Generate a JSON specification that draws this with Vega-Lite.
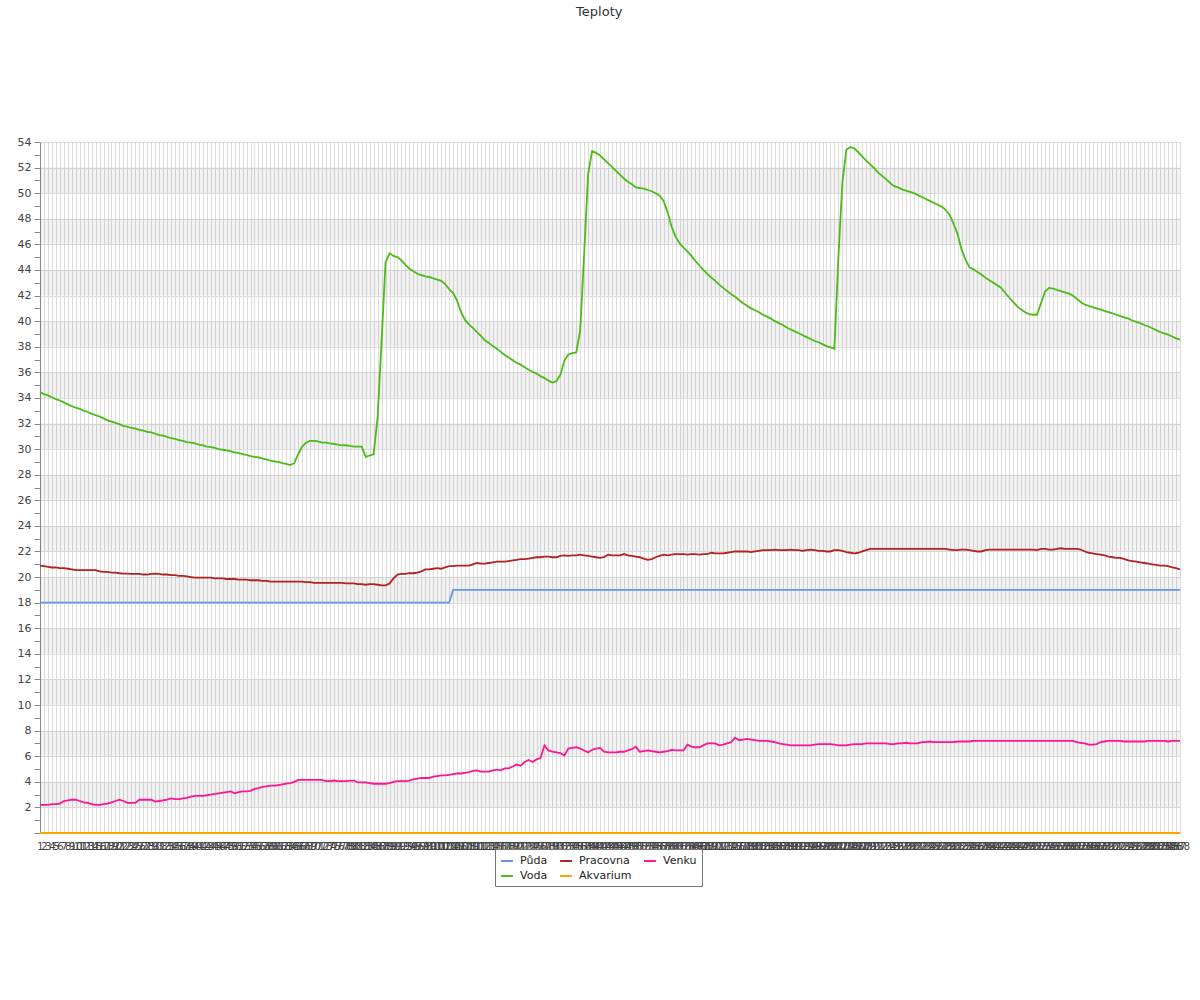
{
"$schema":"https://vega.github.io/schema/vega-lite/v6.json",
"width":1140,"height":691,
"autosize":"none",
"padding":{"left":40,"top":142,"right":20,"bottom":167},
"background":"white",
"config":{"font":"DejaVu Sans","view":{"stroke":null}},
"title":{"text":"Teploty","anchor":"middle","frame":"bounds","offset":117,"fontSize":13,"fontWeight":"normal","color":"#333","dx":-4},
"datasets":{
"bands":[{"t":2,"t2":4},{"t":6,"t2":8},{"t":10,"t2":12},{"t":14,"t2":16},{"t":18,"t2":20},{"t":22,"t2":24},{"t":26,"t2":28},{"t":30,"t2":32},{"t":34,"t2":36},{"t":38,"t2":40},{"t":42,"t2":44},{"t":46,"t2":48},{"t":50,"t2":52}],
"temps":[
{"i":1,"Půda":18,"Voda":34.45,"Pracovna":20.9,"Akvarium":0,"Venku":2.2},
{"i":2,"Půda":18,"Voda":34.3,"Pracovna":20.85,"Akvarium":0,"Venku":2.2},
{"i":3,"Půda":18,"Voda":34.2,"Pracovna":20.8,"Akvarium":0,"Venku":2.2},
{"i":4,"Půda":18,"Voda":34.05,"Pracovna":20.75,"Akvarium":0,"Venku":2.25},
{"i":5,"Půda":18,"Voda":33.9,"Pracovna":20.75,"Akvarium":0,"Venku":2.25},
{"i":6,"Půda":18,"Voda":33.8,"Pracovna":20.7,"Akvarium":0,"Venku":2.3},
{"i":7,"Půda":18,"Voda":33.65,"Pracovna":20.7,"Akvarium":0,"Venku":2.5},
{"i":8,"Půda":18,"Voda":33.5,"Pracovna":20.65,"Akvarium":0,"Venku":2.55},
{"i":9,"Půda":18,"Voda":33.35,"Pracovna":20.6,"Akvarium":0,"Venku":2.6},
{"i":10,"Půda":18,"Voda":33.25,"Pracovna":20.55,"Akvarium":0,"Venku":2.6},
{"i":11,"Půda":18,"Voda":33.15,"Pracovna":20.55,"Akvarium":0,"Venku":2.5},
{"i":12,"Půda":18,"Voda":33.0,"Pracovna":20.55,"Akvarium":0,"Venku":2.4},
{"i":13,"Půda":18,"Voda":32.9,"Pracovna":20.55,"Akvarium":0,"Venku":2.35},
{"i":14,"Půda":18,"Voda":32.75,"Pracovna":20.55,"Akvarium":0,"Venku":2.25},
{"i":15,"Půda":18,"Voda":32.65,"Pracovna":20.55,"Akvarium":0,"Venku":2.2},
{"i":16,"Půda":18,"Voda":32.55,"Pracovna":20.45,"Akvarium":0,"Venku":2.2},
{"i":17,"Půda":18,"Voda":32.4,"Pracovna":20.4,"Akvarium":0,"Venku":2.25},
{"i":18,"Půda":18,"Voda":32.25,"Pracovna":20.4,"Akvarium":0,"Venku":2.3},
{"i":19,"Půda":18,"Voda":32.15,"Pracovna":20.35,"Akvarium":0,"Venku":2.4},
{"i":20,"Půda":18,"Voda":32.05,"Pracovna":20.35,"Akvarium":0,"Venku":2.5},
{"i":21,"Půda":18,"Voda":31.95,"Pracovna":20.3,"Akvarium":0,"Venku":2.6},
{"i":22,"Půda":18,"Voda":31.8,"Pracovna":20.27,"Akvarium":0,"Venku":2.5},
{"i":23,"Půda":18,"Voda":31.75,"Pracovna":20.27,"Akvarium":0,"Venku":2.35},
{"i":24,"Půda":18,"Voda":31.65,"Pracovna":20.25,"Akvarium":0,"Venku":2.35},
{"i":25,"Půda":18,"Voda":31.6,"Pracovna":20.25,"Akvarium":0,"Venku":2.35},
{"i":26,"Půda":18,"Voda":31.5,"Pracovna":20.25,"Akvarium":0,"Venku":2.6},
{"i":27,"Půda":18,"Voda":31.45,"Pracovna":20.2,"Akvarium":0,"Venku":2.6},
{"i":28,"Půda":18,"Voda":31.35,"Pracovna":20.2,"Akvarium":0,"Venku":2.6},
{"i":29,"Půda":18,"Voda":31.3,"Pracovna":20.25,"Akvarium":0,"Venku":2.6},
{"i":30,"Půda":18,"Voda":31.2,"Pracovna":20.27,"Akvarium":0,"Venku":2.45},
{"i":31,"Půda":18,"Voda":31.1,"Pracovna":20.25,"Akvarium":0,"Venku":2.5},
{"i":32,"Půda":18,"Voda":31.05,"Pracovna":20.2,"Akvarium":0,"Venku":2.55},
{"i":33,"Půda":18,"Voda":30.95,"Pracovna":20.2,"Akvarium":0,"Venku":2.6},
{"i":34,"Půda":18,"Voda":30.85,"Pracovna":20.15,"Akvarium":0,"Venku":2.7},
{"i":35,"Půda":18,"Voda":30.8,"Pracovna":20.15,"Akvarium":0,"Venku":2.65},
{"i":36,"Půda":18,"Voda":30.7,"Pracovna":20.1,"Akvarium":0,"Venku":2.65},
{"i":37,"Půda":18,"Voda":30.65,"Pracovna":20.1,"Akvarium":0,"Venku":2.7},
{"i":38,"Půda":18,"Voda":30.55,"Pracovna":20.05,"Akvarium":0,"Venku":2.75},
{"i":39,"Půda":18,"Voda":30.5,"Pracovna":20.0,"Akvarium":0,"Venku":2.85},
{"i":40,"Půda":18,"Voda":30.45,"Pracovna":19.95,"Akvarium":0,"Venku":2.9},
{"i":41,"Půda":18,"Voda":30.35,"Pracovna":19.95,"Akvarium":0,"Venku":2.9},
{"i":42,"Půda":18,"Voda":30.3,"Pracovna":19.95,"Akvarium":0,"Venku":2.9},
{"i":43,"Půda":18,"Voda":30.2,"Pracovna":19.95,"Akvarium":0,"Venku":2.95},
{"i":44,"Půda":18,"Voda":30.15,"Pracovna":19.95,"Akvarium":0,"Venku":3.0},
{"i":45,"Půda":18,"Voda":30.1,"Pracovna":19.9,"Akvarium":0,"Venku":3.05},
{"i":46,"Půda":18,"Voda":30.0,"Pracovna":19.9,"Akvarium":0,"Venku":3.1},
{"i":47,"Půda":18,"Voda":29.95,"Pracovna":19.9,"Akvarium":0,"Venku":3.15},
{"i":48,"Půda":18,"Voda":29.9,"Pracovna":19.85,"Akvarium":0,"Venku":3.2},
{"i":49,"Půda":18,"Voda":29.85,"Pracovna":19.85,"Akvarium":0,"Venku":3.25},
{"i":50,"Půda":18,"Voda":29.75,"Pracovna":19.85,"Akvarium":0,"Venku":3.1},
{"i":51,"Půda":18,"Voda":29.7,"Pracovna":19.8,"Akvarium":0,"Venku":3.2},
{"i":52,"Půda":18,"Voda":29.6,"Pracovna":19.8,"Akvarium":0,"Venku":3.25},
{"i":53,"Půda":18,"Voda":29.55,"Pracovna":19.8,"Akvarium":0,"Venku":3.25},
{"i":54,"Půda":18,"Voda":29.45,"Pracovna":19.75,"Akvarium":0,"Venku":3.3},
{"i":55,"Půda":18,"Voda":29.4,"Pracovna":19.75,"Akvarium":0,"Venku":3.45},
{"i":56,"Půda":18,"Voda":29.35,"Pracovna":19.75,"Akvarium":0,"Venku":3.5},
{"i":57,"Půda":18,"Voda":29.25,"Pracovna":19.7,"Akvarium":0,"Venku":3.6},
{"i":58,"Půda":18,"Voda":29.2,"Pracovna":19.7,"Akvarium":0,"Venku":3.65},
{"i":59,"Půda":18,"Voda":29.1,"Pracovna":19.65,"Akvarium":0,"Venku":3.7},
{"i":60,"Půda":18,"Voda":29.05,"Pracovna":19.65,"Akvarium":0,"Venku":3.7},
{"i":61,"Půda":18,"Voda":29.0,"Pracovna":19.65,"Akvarium":0,"Venku":3.75},
{"i":62,"Půda":18,"Voda":28.9,"Pracovna":19.65,"Akvarium":0,"Venku":3.8},
{"i":63,"Půda":18,"Voda":28.85,"Pracovna":19.65,"Akvarium":0,"Venku":3.85},
{"i":64,"Půda":18,"Voda":28.75,"Pracovna":19.65,"Akvarium":0,"Venku":3.9},
{"i":65,"Půda":18,"Voda":28.9,"Pracovna":19.65,"Akvarium":0,"Venku":4.0},
{"i":66,"Půda":18,"Voda":29.6,"Pracovna":19.65,"Akvarium":0,"Venku":4.15},
{"i":67,"Půda":18,"Voda":30.2,"Pracovna":19.65,"Akvarium":0,"Venku":4.15},
{"i":68,"Půda":18,"Voda":30.5,"Pracovna":19.6,"Akvarium":0,"Venku":4.15},
{"i":69,"Půda":18,"Voda":30.65,"Pracovna":19.6,"Akvarium":0,"Venku":4.15},
{"i":70,"Půda":18,"Voda":30.65,"Pracovna":19.55,"Akvarium":0,"Venku":4.15},
{"i":71,"Půda":18,"Voda":30.6,"Pracovna":19.55,"Akvarium":0,"Venku":4.15},
{"i":72,"Půda":18,"Voda":30.5,"Pracovna":19.55,"Akvarium":0,"Venku":4.15},
{"i":73,"Půda":18,"Voda":30.5,"Pracovna":19.55,"Akvarium":0,"Venku":4.05},
{"i":74,"Půda":18,"Voda":30.45,"Pracovna":19.55,"Akvarium":0,"Venku":4.05},
{"i":75,"Půda":18,"Voda":30.4,"Pracovna":19.55,"Akvarium":0,"Venku":4.1},
{"i":76,"Půda":18,"Voda":30.35,"Pracovna":19.55,"Akvarium":0,"Venku":4.05},
{"i":77,"Půda":18,"Voda":30.3,"Pracovna":19.55,"Akvarium":0,"Venku":4.05},
{"i":78,"Půda":18,"Voda":30.3,"Pracovna":19.5,"Akvarium":0,"Venku":4.05},
{"i":79,"Půda":18,"Voda":30.25,"Pracovna":19.5,"Akvarium":0,"Venku":4.1},
{"i":80,"Půda":18,"Voda":30.2,"Pracovna":19.5,"Akvarium":0,"Venku":4.1},
{"i":81,"Půda":18,"Voda":30.2,"Pracovna":19.45,"Akvarium":0,"Venku":3.95},
{"i":82,"Půda":18,"Voda":30.2,"Pracovna":19.45,"Akvarium":0,"Venku":3.95},
{"i":83,"Půda":18,"Voda":29.4,"Pracovna":19.4,"Akvarium":0,"Venku":3.95},
{"i":84,"Půda":18,"Voda":29.5,"Pracovna":19.45,"Akvarium":0,"Venku":3.9},
{"i":85,"Půda":18,"Voda":29.6,"Pracovna":19.45,"Akvarium":0,"Venku":3.85},
{"i":86,"Půda":18,"Voda":32.5,"Pracovna":19.4,"Akvarium":0,"Venku":3.85},
{"i":87,"Půda":18,"Voda":38.5,"Pracovna":19.35,"Akvarium":0,"Venku":3.85},
{"i":88,"Půda":18,"Voda":44.6,"Pracovna":19.35,"Akvarium":0,"Venku":3.85},
{"i":89,"Půda":18,"Voda":45.3,"Pracovna":19.5,"Akvarium":0,"Venku":3.9},
{"i":90,"Půda":18,"Voda":45.1,"Pracovna":19.9,"Akvarium":0,"Venku":4.0},
{"i":91,"Půda":18,"Voda":45.0,"Pracovna":20.2,"Akvarium":0,"Venku":4.05},
{"i":92,"Půda":18,"Voda":44.75,"Pracovna":20.25,"Akvarium":0,"Venku":4.05},
{"i":93,"Půda":18,"Voda":44.4,"Pracovna":20.25,"Akvarium":0,"Venku":4.05},
{"i":94,"Půda":18,"Voda":44.1,"Pracovna":20.3,"Akvarium":0,"Venku":4.1},
{"i":95,"Půda":18,"Voda":43.9,"Pracovna":20.3,"Akvarium":0,"Venku":4.2},
{"i":96,"Půda":18,"Voda":43.7,"Pracovna":20.35,"Akvarium":0,"Venku":4.25},
{"i":97,"Půda":18,"Voda":43.6,"Pracovna":20.45,"Akvarium":0,"Venku":4.3},
{"i":98,"Půda":18,"Voda":43.5,"Pracovna":20.6,"Akvarium":0,"Venku":4.3},
{"i":99,"Půda":18,"Voda":43.45,"Pracovna":20.6,"Akvarium":0,"Venku":4.3},
{"i":100,"Půda":18,"Voda":43.35,"Pracovna":20.65,"Akvarium":0,"Venku":4.4},
{"i":101,"Půda":18,"Voda":43.25,"Pracovna":20.7,"Akvarium":0,"Venku":4.45},
{"i":102,"Půda":18,"Voda":43.15,"Pracovna":20.65,"Akvarium":0,"Venku":4.5},
{"i":103,"Půda":18,"Voda":42.9,"Pracovna":20.75,"Akvarium":0,"Venku":4.5},
{"i":104,"Půda":18,"Voda":42.5,"Pracovna":20.85,"Akvarium":0,"Venku":4.55},
{"i":105,"Půda":19,"Voda":42.2,"Pracovna":20.85,"Akvarium":0,"Venku":4.6},
{"i":106,"Půda":19,"Voda":41.6,"Pracovna":20.9,"Akvarium":0,"Venku":4.65},
{"i":107,"Půda":19,"Voda":40.7,"Pracovna":20.9,"Akvarium":0,"Venku":4.65},
{"i":108,"Půda":19,"Voda":40.1,"Pracovna":20.9,"Akvarium":0,"Venku":4.7},
{"i":109,"Půda":19,"Voda":39.75,"Pracovna":20.9,"Akvarium":0,"Venku":4.75},
{"i":110,"Půda":19,"Voda":39.45,"Pracovna":21.0,"Akvarium":0,"Venku":4.85},
{"i":111,"Půda":19,"Voda":39.15,"Pracovna":21.1,"Akvarium":0,"Venku":4.9},
{"i":112,"Půda":19,"Voda":38.85,"Pracovna":21.05,"Akvarium":0,"Venku":4.8},
{"i":113,"Půda":19,"Voda":38.5,"Pracovna":21.05,"Akvarium":0,"Venku":4.8},
{"i":114,"Půda":19,"Voda":38.3,"Pracovna":21.1,"Akvarium":0,"Venku":4.8},
{"i":115,"Půda":19,"Voda":38.05,"Pracovna":21.15,"Akvarium":0,"Venku":4.9},
{"i":116,"Půda":19,"Voda":37.85,"Pracovna":21.2,"Akvarium":0,"Venku":4.95},
{"i":117,"Půda":19,"Voda":37.6,"Pracovna":21.2,"Akvarium":0,"Venku":4.9},
{"i":118,"Půda":19,"Voda":37.35,"Pracovna":21.2,"Akvarium":0,"Venku":5.05},
{"i":119,"Půda":19,"Voda":37.15,"Pracovna":21.25,"Akvarium":0,"Venku":5.05},
{"i":120,"Půda":19,"Voda":36.95,"Pracovna":21.3,"Akvarium":0,"Venku":5.2},
{"i":121,"Půda":19,"Voda":36.75,"Pracovna":21.35,"Akvarium":0,"Venku":5.35},
{"i":122,"Půda":19,"Voda":36.6,"Pracovna":21.4,"Akvarium":0,"Venku":5.25},
{"i":123,"Půda":19,"Voda":36.4,"Pracovna":21.4,"Akvarium":0,"Venku":5.55},
{"i":124,"Půda":19,"Voda":36.2,"Pracovna":21.45,"Akvarium":0,"Venku":5.7},
{"i":125,"Půda":19,"Voda":36.05,"Pracovna":21.5,"Akvarium":0,"Venku":5.55},
{"i":126,"Půda":19,"Voda":35.9,"Pracovna":21.55,"Akvarium":0,"Venku":5.75},
{"i":127,"Půda":19,"Voda":35.7,"Pracovna":21.55,"Akvarium":0,"Venku":5.85},
{"i":128,"Půda":19,"Voda":35.55,"Pracovna":21.6,"Akvarium":0,"Venku":6.85},
{"i":129,"Půda":19,"Voda":35.35,"Pracovna":21.6,"Akvarium":0,"Venku":6.45},
{"i":130,"Půda":19,"Voda":35.2,"Pracovna":21.55,"Akvarium":0,"Venku":6.35},
{"i":131,"Půda":19,"Voda":35.3,"Pracovna":21.55,"Akvarium":0,"Venku":6.3},
{"i":132,"Půda":19,"Voda":35.8,"Pracovna":21.65,"Akvarium":0,"Venku":6.25},
{"i":133,"Půda":19,"Voda":36.9,"Pracovna":21.7,"Akvarium":0,"Venku":6.05},
{"i":134,"Půda":19,"Voda":37.4,"Pracovna":21.65,"Akvarium":0,"Venku":6.6},
{"i":135,"Půda":19,"Voda":37.5,"Pracovna":21.7,"Akvarium":0,"Venku":6.65},
{"i":136,"Půda":19,"Voda":37.55,"Pracovna":21.7,"Akvarium":0,"Venku":6.7},
{"i":137,"Půda":19,"Voda":39.3,"Pracovna":21.75,"Akvarium":0,"Venku":6.6},
{"i":138,"Půda":19,"Voda":45.3,"Pracovna":21.7,"Akvarium":0,"Venku":6.45},
{"i":139,"Půda":19,"Voda":51.5,"Pracovna":21.65,"Akvarium":0,"Venku":6.3},
{"i":140,"Půda":19,"Voda":53.3,"Pracovna":21.6,"Akvarium":0,"Venku":6.5},
{"i":141,"Půda":19,"Voda":53.15,"Pracovna":21.55,"Akvarium":0,"Venku":6.6},
{"i":142,"Půda":19,"Voda":52.95,"Pracovna":21.5,"Akvarium":0,"Venku":6.65},
{"i":143,"Půda":19,"Voda":52.65,"Pracovna":21.55,"Akvarium":0,"Venku":6.35},
{"i":144,"Půda":19,"Voda":52.35,"Pracovna":21.75,"Akvarium":0,"Venku":6.3},
{"i":145,"Půda":19,"Voda":52.05,"Pracovna":21.7,"Akvarium":0,"Venku":6.3},
{"i":146,"Půda":19,"Voda":51.75,"Pracovna":21.7,"Akvarium":0,"Venku":6.3},
{"i":147,"Půda":19,"Voda":51.45,"Pracovna":21.7,"Akvarium":0,"Venku":6.35},
{"i":148,"Půda":19,"Voda":51.15,"Pracovna":21.8,"Akvarium":0,"Venku":6.35},
{"i":149,"Půda":19,"Voda":50.9,"Pracovna":21.7,"Akvarium":0,"Venku":6.45},
{"i":150,"Půda":19,"Voda":50.7,"Pracovna":21.65,"Akvarium":0,"Venku":6.55},
{"i":151,"Půda":19,"Voda":50.45,"Pracovna":21.6,"Akvarium":0,"Venku":6.75},
{"i":152,"Půda":19,"Voda":50.4,"Pracovna":21.55,"Akvarium":0,"Venku":6.35},
{"i":153,"Půda":19,"Voda":50.35,"Pracovna":21.45,"Akvarium":0,"Venku":6.4},
{"i":154,"Půda":19,"Voda":50.25,"Pracovna":21.35,"Akvarium":0,"Venku":6.45},
{"i":155,"Půda":19,"Voda":50.15,"Pracovna":21.4,"Akvarium":0,"Venku":6.4},
{"i":156,"Půda":19,"Voda":50.0,"Pracovna":21.55,"Akvarium":0,"Venku":6.35},
{"i":157,"Půda":19,"Voda":49.8,"Pracovna":21.65,"Akvarium":0,"Venku":6.3},
{"i":158,"Půda":19,"Voda":49.4,"Pracovna":21.75,"Akvarium":0,"Venku":6.35},
{"i":159,"Půda":19,"Voda":48.5,"Pracovna":21.7,"Akvarium":0,"Venku":6.4},
{"i":160,"Půda":19,"Voda":47.4,"Pracovna":21.75,"Akvarium":0,"Venku":6.5},
{"i":161,"Půda":19,"Voda":46.6,"Pracovna":21.8,"Akvarium":0,"Venku":6.45},
{"i":162,"Půda":19,"Voda":46.1,"Pracovna":21.8,"Akvarium":0,"Venku":6.45},
{"i":163,"Půda":19,"Voda":45.75,"Pracovna":21.8,"Akvarium":0,"Venku":6.45},
{"i":164,"Půda":19,"Voda":45.45,"Pracovna":21.75,"Akvarium":0,"Venku":6.9},
{"i":165,"Půda":19,"Voda":45.1,"Pracovna":21.8,"Akvarium":0,"Venku":6.75},
{"i":166,"Půda":19,"Voda":44.7,"Pracovna":21.8,"Akvarium":0,"Venku":6.7},
{"i":167,"Půda":19,"Voda":44.35,"Pracovna":21.75,"Akvarium":0,"Venku":6.7},
{"i":168,"Půda":19,"Voda":44.0,"Pracovna":21.8,"Akvarium":0,"Venku":6.85},
{"i":169,"Půda":19,"Voda":43.7,"Pracovna":21.8,"Akvarium":0,"Venku":7.0},
{"i":170,"Půda":19,"Voda":43.4,"Pracovna":21.9,"Akvarium":0,"Venku":7.0},
{"i":171,"Půda":19,"Voda":43.15,"Pracovna":21.85,"Akvarium":0,"Venku":7.0},
{"i":172,"Půda":19,"Voda":42.85,"Pracovna":21.85,"Akvarium":0,"Venku":6.85},
{"i":173,"Půda":19,"Voda":42.6,"Pracovna":21.85,"Akvarium":0,"Venku":6.9},
{"i":174,"Půda":19,"Voda":42.35,"Pracovna":21.9,"Akvarium":0,"Venku":7.0},
{"i":175,"Půda":19,"Voda":42.1,"Pracovna":21.95,"Akvarium":0,"Venku":7.1},
{"i":176,"Půda":19,"Voda":41.9,"Pracovna":22.0,"Akvarium":0,"Venku":7.45},
{"i":177,"Půda":19,"Voda":41.65,"Pracovna":22.0,"Akvarium":0,"Venku":7.25},
{"i":178,"Půda":19,"Voda":41.4,"Pracovna":22.0,"Akvarium":0,"Venku":7.3},
{"i":179,"Půda":19,"Voda":41.2,"Pracovna":22.0,"Akvarium":0,"Venku":7.35},
{"i":180,"Půda":19,"Voda":41.0,"Pracovna":21.95,"Akvarium":0,"Venku":7.3},
{"i":181,"Půda":19,"Voda":40.85,"Pracovna":22.0,"Akvarium":0,"Venku":7.25},
{"i":182,"Půda":19,"Voda":40.7,"Pracovna":22.05,"Akvarium":0,"Venku":7.2},
{"i":183,"Půda":19,"Voda":40.5,"Pracovna":22.1,"Akvarium":0,"Venku":7.2},
{"i":184,"Půda":19,"Voda":40.35,"Pracovna":22.1,"Akvarium":0,"Venku":7.2},
{"i":185,"Půda":19,"Voda":40.2,"Pracovna":22.1,"Akvarium":0,"Venku":7.15},
{"i":186,"Půda":19,"Voda":40.0,"Pracovna":22.15,"Akvarium":0,"Venku":7.1},
{"i":187,"Půda":19,"Voda":39.85,"Pracovna":22.1,"Akvarium":0,"Venku":7.0},
{"i":188,"Půda":19,"Voda":39.7,"Pracovna":22.1,"Akvarium":0,"Venku":6.95},
{"i":189,"Půda":19,"Voda":39.5,"Pracovna":22.1,"Akvarium":0,"Venku":6.9},
{"i":190,"Půda":19,"Voda":39.35,"Pracovna":22.15,"Akvarium":0,"Venku":6.85},
{"i":191,"Půda":19,"Voda":39.2,"Pracovna":22.1,"Akvarium":0,"Venku":6.85},
{"i":192,"Půda":19,"Voda":39.05,"Pracovna":22.1,"Akvarium":0,"Venku":6.85},
{"i":193,"Půda":19,"Voda":38.9,"Pracovna":22.05,"Akvarium":0,"Venku":6.85},
{"i":194,"Půda":19,"Voda":38.75,"Pracovna":22.1,"Akvarium":0,"Venku":6.85},
{"i":195,"Půda":19,"Voda":38.6,"Pracovna":22.15,"Akvarium":0,"Venku":6.85},
{"i":196,"Půda":19,"Voda":38.45,"Pracovna":22.1,"Akvarium":0,"Venku":6.9},
{"i":197,"Půda":19,"Voda":38.35,"Pracovna":22.05,"Akvarium":0,"Venku":6.95},
{"i":198,"Půda":19,"Voda":38.2,"Pracovna":22.05,"Akvarium":0,"Venku":6.95},
{"i":199,"Půda":19,"Voda":38.05,"Pracovna":22.0,"Akvarium":0,"Venku":6.95},
{"i":200,"Půda":19,"Voda":37.95,"Pracovna":22.0,"Akvarium":0,"Venku":6.95},
{"i":201,"Půda":19,"Voda":37.85,"Pracovna":22.1,"Akvarium":0,"Venku":6.9},
{"i":202,"Půda":19,"Voda":45.0,"Pracovna":22.1,"Akvarium":0,"Venku":6.85},
{"i":203,"Půda":19,"Voda":50.8,"Pracovna":22.05,"Akvarium":0,"Venku":6.85},
{"i":204,"Půda":19,"Voda":53.4,"Pracovna":21.95,"Akvarium":0,"Venku":6.85},
{"i":205,"Půda":19,"Voda":53.6,"Pracovna":21.9,"Akvarium":0,"Venku":6.9},
{"i":206,"Půda":19,"Voda":53.5,"Pracovna":21.85,"Akvarium":0,"Venku":6.95},
{"i":207,"Půda":19,"Voda":53.2,"Pracovna":21.9,"Akvarium":0,"Venku":6.95},
{"i":208,"Půda":19,"Voda":52.85,"Pracovna":22.0,"Akvarium":0,"Venku":6.95},
{"i":209,"Půda":19,"Voda":52.55,"Pracovna":22.1,"Akvarium":0,"Venku":7.0},
{"i":210,"Půda":19,"Voda":52.25,"Pracovna":22.2,"Akvarium":0,"Venku":7.0},
{"i":211,"Půda":19,"Voda":51.95,"Pracovna":22.2,"Akvarium":0,"Venku":7.0},
{"i":212,"Půda":19,"Voda":51.6,"Pracovna":22.2,"Akvarium":0,"Venku":7.0},
{"i":213,"Půda":19,"Voda":51.35,"Pracovna":22.2,"Akvarium":0,"Venku":7.0},
{"i":214,"Půda":19,"Voda":51.1,"Pracovna":22.2,"Akvarium":0,"Venku":7.0},
{"i":215,"Půda":19,"Voda":50.8,"Pracovna":22.2,"Akvarium":0,"Venku":6.95},
{"i":216,"Půda":19,"Voda":50.55,"Pracovna":22.2,"Akvarium":0,"Venku":6.95},
{"i":217,"Půda":19,"Voda":50.45,"Pracovna":22.2,"Akvarium":0,"Venku":7.0},
{"i":218,"Půda":19,"Voda":50.3,"Pracovna":22.2,"Akvarium":0,"Venku":7.0},
{"i":219,"Půda":19,"Voda":50.2,"Pracovna":22.2,"Akvarium":0,"Venku":7.05},
{"i":220,"Půda":19,"Voda":50.1,"Pracovna":22.2,"Akvarium":0,"Venku":7.0},
{"i":221,"Půda":19,"Voda":50.0,"Pracovna":22.2,"Akvarium":0,"Venku":7.0},
{"i":222,"Půda":19,"Voda":49.85,"Pracovna":22.2,"Akvarium":0,"Venku":7.0},
{"i":223,"Půda":19,"Voda":49.7,"Pracovna":22.2,"Akvarium":0,"Venku":7.1},
{"i":224,"Půda":19,"Voda":49.55,"Pracovna":22.2,"Akvarium":0,"Venku":7.1},
{"i":225,"Půda":19,"Voda":49.4,"Pracovna":22.2,"Akvarium":0,"Venku":7.15},
{"i":226,"Půda":19,"Voda":49.25,"Pracovna":22.2,"Akvarium":0,"Venku":7.1},
{"i":227,"Půda":19,"Voda":49.1,"Pracovna":22.2,"Akvarium":0,"Venku":7.1},
{"i":228,"Půda":19,"Voda":48.95,"Pracovna":22.2,"Akvarium":0,"Venku":7.1},
{"i":229,"Půda":19,"Voda":48.7,"Pracovna":22.2,"Akvarium":0,"Venku":7.1},
{"i":230,"Půda":19,"Voda":48.3,"Pracovna":22.15,"Akvarium":0,"Venku":7.1},
{"i":231,"Půda":19,"Voda":47.6,"Pracovna":22.1,"Akvarium":0,"Venku":7.1},
{"i":232,"Půda":19,"Voda":46.8,"Pracovna":22.1,"Akvarium":0,"Venku":7.15},
{"i":233,"Půda":19,"Voda":45.6,"Pracovna":22.15,"Akvarium":0,"Venku":7.15},
{"i":234,"Půda":19,"Voda":44.8,"Pracovna":22.15,"Akvarium":0,"Venku":7.15},
{"i":235,"Půda":19,"Voda":44.2,"Pracovna":22.1,"Akvarium":0,"Venku":7.15},
{"i":236,"Půda":19,"Voda":44.05,"Pracovna":22.05,"Akvarium":0,"Venku":7.2},
{"i":237,"Půda":19,"Voda":43.85,"Pracovna":22.0,"Akvarium":0,"Venku":7.2},
{"i":238,"Půda":19,"Voda":43.65,"Pracovna":22.0,"Akvarium":0,"Venku":7.2},
{"i":239,"Půda":19,"Voda":43.4,"Pracovna":22.1,"Akvarium":0,"Venku":7.2},
{"i":240,"Půda":19,"Voda":43.2,"Pracovna":22.15,"Akvarium":0,"Venku":7.2},
{"i":241,"Půda":19,"Voda":43.0,"Pracovna":22.15,"Akvarium":0,"Venku":7.2},
{"i":242,"Půda":19,"Voda":42.8,"Pracovna":22.15,"Akvarium":0,"Venku":7.2},
{"i":243,"Půda":19,"Voda":42.6,"Pracovna":22.15,"Akvarium":0,"Venku":7.2},
{"i":244,"Půda":19,"Voda":42.2,"Pracovna":22.15,"Akvarium":0,"Venku":7.2},
{"i":245,"Půda":19,"Voda":41.85,"Pracovna":22.15,"Akvarium":0,"Venku":7.2},
{"i":246,"Půda":19,"Voda":41.5,"Pracovna":22.15,"Akvarium":0,"Venku":7.2},
{"i":247,"Půda":19,"Voda":41.15,"Pracovna":22.15,"Akvarium":0,"Venku":7.2},
{"i":248,"Půda":19,"Voda":40.9,"Pracovna":22.15,"Akvarium":0,"Venku":7.2},
{"i":249,"Půda":19,"Voda":40.7,"Pracovna":22.15,"Akvarium":0,"Venku":7.2},
{"i":250,"Půda":19,"Voda":40.55,"Pracovna":22.15,"Akvarium":0,"Venku":7.2},
{"i":251,"Půda":19,"Voda":40.5,"Pracovna":22.15,"Akvarium":0,"Venku":7.2},
{"i":252,"Půda":19,"Voda":40.5,"Pracovna":22.1,"Akvarium":0,"Venku":7.2},
{"i":253,"Půda":19,"Voda":41.4,"Pracovna":22.2,"Akvarium":0,"Venku":7.2},
{"i":254,"Půda":19,"Voda":42.3,"Pracovna":22.2,"Akvarium":0,"Venku":7.2},
{"i":255,"Půda":19,"Voda":42.6,"Pracovna":22.15,"Akvarium":0,"Venku":7.2},
{"i":256,"Půda":19,"Voda":42.55,"Pracovna":22.15,"Akvarium":0,"Venku":7.2},
{"i":257,"Půda":19,"Voda":42.45,"Pracovna":22.2,"Akvarium":0,"Venku":7.2},
{"i":258,"Půda":19,"Voda":42.35,"Pracovna":22.25,"Akvarium":0,"Venku":7.2},
{"i":259,"Půda":19,"Voda":42.25,"Pracovna":22.2,"Akvarium":0,"Venku":7.2},
{"i":260,"Půda":19,"Voda":42.15,"Pracovna":22.2,"Akvarium":0,"Venku":7.2},
{"i":261,"Půda":19,"Voda":42.0,"Pracovna":22.2,"Akvarium":0,"Venku":7.2},
{"i":262,"Půda":19,"Voda":41.75,"Pracovna":22.2,"Akvarium":0,"Venku":7.1},
{"i":263,"Půda":19,"Voda":41.5,"Pracovna":22.15,"Akvarium":0,"Venku":7.05},
{"i":264,"Půda":19,"Voda":41.3,"Pracovna":22.0,"Akvarium":0,"Venku":7.0},
{"i":265,"Půda":19,"Voda":41.2,"Pracovna":21.9,"Akvarium":0,"Venku":6.9},
{"i":266,"Půda":19,"Voda":41.1,"Pracovna":21.85,"Akvarium":0,"Venku":6.9},
{"i":267,"Půda":19,"Voda":41.0,"Pracovna":21.8,"Akvarium":0,"Venku":6.95},
{"i":268,"Půda":19,"Voda":40.9,"Pracovna":21.75,"Akvarium":0,"Venku":7.1},
{"i":269,"Půda":19,"Voda":40.8,"Pracovna":21.7,"Akvarium":0,"Venku":7.15},
{"i":270,"Půda":19,"Voda":40.7,"Pracovna":21.6,"Akvarium":0,"Venku":7.2},
{"i":271,"Půda":19,"Voda":40.6,"Pracovna":21.55,"Akvarium":0,"Venku":7.2},
{"i":272,"Půda":19,"Voda":40.5,"Pracovna":21.5,"Akvarium":0,"Venku":7.2},
{"i":273,"Půda":19,"Voda":40.4,"Pracovna":21.5,"Akvarium":0,"Venku":7.2},
{"i":274,"Půda":19,"Voda":40.3,"Pracovna":21.4,"Akvarium":0,"Venku":7.15},
{"i":275,"Půda":19,"Voda":40.2,"Pracovna":21.3,"Akvarium":0,"Venku":7.15},
{"i":276,"Půda":19,"Voda":40.05,"Pracovna":21.25,"Akvarium":0,"Venku":7.15},
{"i":277,"Půda":19,"Voda":39.95,"Pracovna":21.2,"Akvarium":0,"Venku":7.15},
{"i":278,"Půda":19,"Voda":39.85,"Pracovna":21.15,"Akvarium":0,"Venku":7.15},
{"i":279,"Půda":19,"Voda":39.7,"Pracovna":21.1,"Akvarium":0,"Venku":7.15},
{"i":280,"Půda":19,"Voda":39.6,"Pracovna":21.05,"Akvarium":0,"Venku":7.2},
{"i":281,"Půda":19,"Voda":39.45,"Pracovna":21.0,"Akvarium":0,"Venku":7.2},
{"i":282,"Půda":19,"Voda":39.3,"Pracovna":20.95,"Akvarium":0,"Venku":7.2},
{"i":283,"Půda":19,"Voda":39.15,"Pracovna":20.9,"Akvarium":0,"Venku":7.2},
{"i":284,"Půda":19,"Voda":39.05,"Pracovna":20.9,"Akvarium":0,"Venku":7.2},
{"i":285,"Půda":19,"Voda":38.95,"Pracovna":20.85,"Akvarium":0,"Venku":7.15},
{"i":286,"Půda":19,"Voda":38.8,"Pracovna":20.75,"Akvarium":0,"Venku":7.2},
{"i":287,"Půda":19,"Voda":38.65,"Pracovna":20.7,"Akvarium":0,"Venku":7.2},
{"i":288,"Půda":19,"Voda":38.55,"Pracovna":20.6,"Akvarium":0,"Venku":7.2}
]},
"encoding":{
 "y":{"field":"t","type":"quantitative","scale":{"domain":[0,54],"nice":false,"zero":true},
  "axis":{"title":null,"values":[0,1,2,3,4,5,6,7,8,9,10,11,12,13,14,15,16,17,18,19,20,21,22,23,24,25,26,27,28,29,30,31,32,33,34,35,36,37,38,39,40,41,42,43,44,45,46,47,48,49,50,51,52,53,54],
   "labelExpr":"(datum.value % 2 == 0 && datum.value > 0) ? datum.label : ''",
   "grid":true,"gridColor":"#dddddd",
   "gridOpacity":{"condition":{"test":"datum.value % 2 == 1","value":0},"value":1},
   "tickSize":6,"tickColor":"#888888","domainColor":"#888888","labelColor":"#444444","labelFontSize":11,"labelPadding":3,"labelOverlap":false}}
},
"layer":[
 {"data":{"name":"bands"},"mark":{"type":"rect","fill":"#000000","fillOpacity":0.05},"encoding":{"y2":{"field":"t2"}}},
 {"data":{"name":"temps"},
  "transform":[{"fold":["Půda","Voda","Pracovna","Akvarium","Venku"],"as":["serie","t"]}],
  "mark":{"type":"line","strokeWidth":1.8},
  "encoding":{
   "x":{"field":"i","type":"ordinal","scale":{"type":"point","padding":0},
    "axis":{"title":null,"labelAngle":0,"labelOverlap":false,"labelFontSize":10,"labelColor":"#444444","grid":true,"gridColor":"#dddddd","ticks":false,"domain":true,"domainColor":"#888888","labelPadding":8,"labelBound":false,"labelFlush":false}},
   "color":{"field":"serie","type":"nominal",
    "scale":{"domain":["Půda","Pracovna","Venku","Voda","Akvarium"],"range":["#6495ED","#B22222","#FF1493","#4CBB17","#FFA500"]},
    "legend":{"orient":"none","legendX":455,"legendY":707,"direction":"horizontal","columns":3,"title":null,"strokeColor":"#777777","padding":5,"symbolType":"stroke","symbolStrokeWidth":2,"symbolSize":140,"labelFontSize":11,"labelColor":"#222222","columnPadding":8,"rowPadding":3,"labelOffset":6}}
  }}
]
}
